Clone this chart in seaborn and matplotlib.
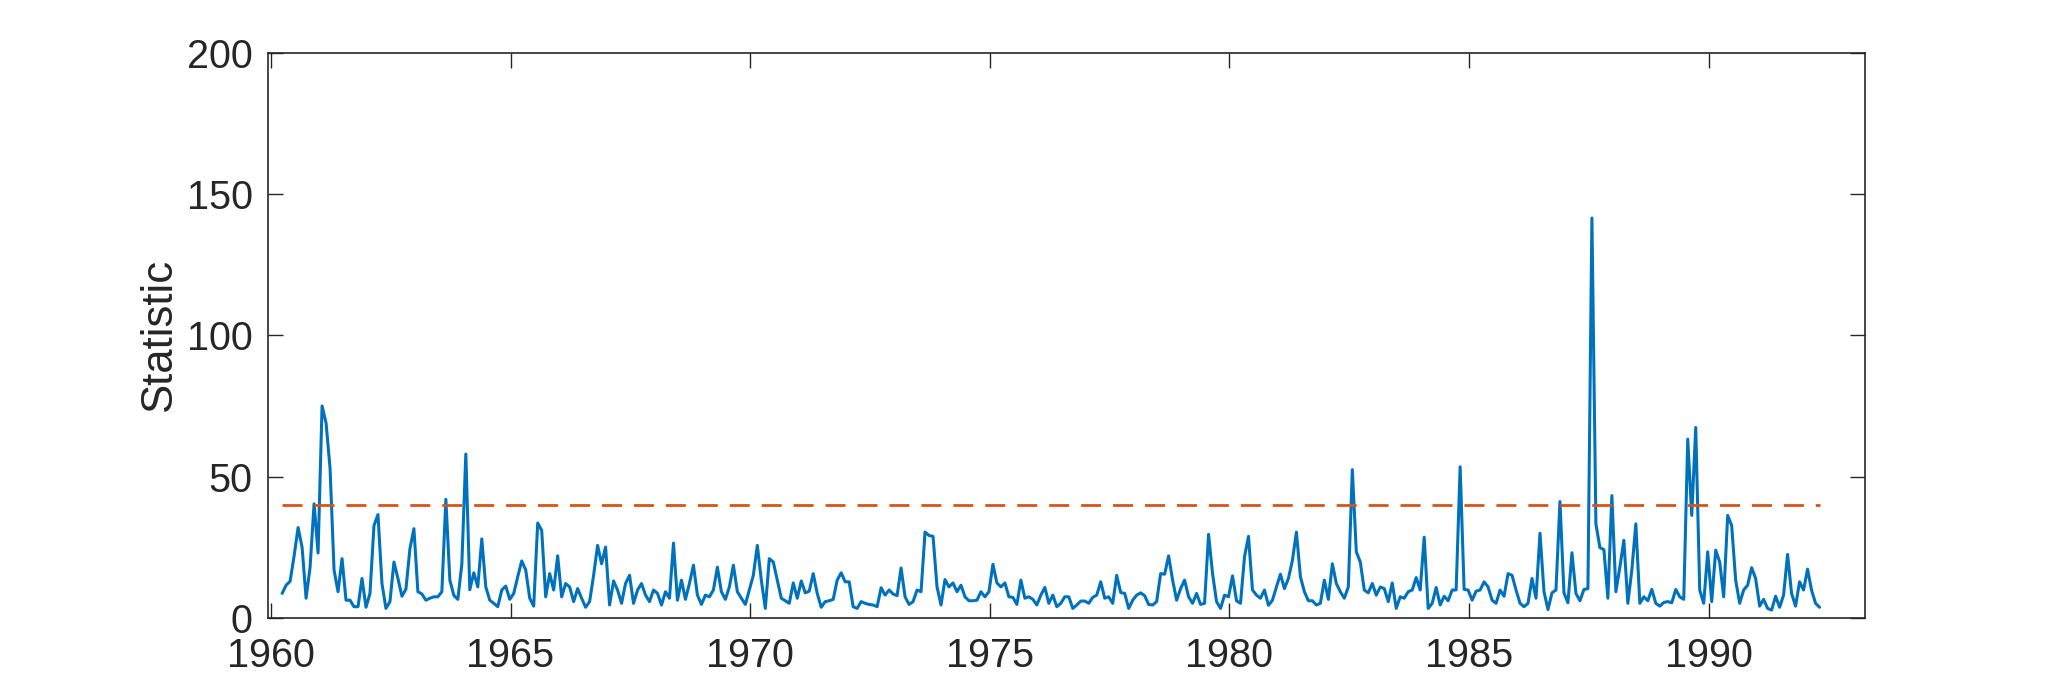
import numpy as np
import pandas as pd
import seaborn as sns
import matplotlib
matplotlib.use("Agg")
import matplotlib.pyplot as plt

# monthly statistic (starts spring 1960)
start_year = 1960 + 2.8 / 12
statistic = [
    8.7, 11.6, 13, 22, 32, 25, 7, 18, 40.4, 23, 75, 69, 53, 17, 9.3, 21,
    6.3, 6.3, 4, 4, 14, 3.8, 8.7, 32.7, 36.6, 12.2, 3.4, 5.8, 19.8, 14, 7.7, 10.2,
    24.5, 31.6, 9.3, 8.5, 6.3, 7, 7.5, 7.5, 9.3, 42, 13.4, 8, 6.6, 19, 58, 10,
    16, 11, 28, 11, 6.3, 5.2, 4, 9.9, 11.3, 6.6, 8.7, 14.6, 20.2, 17, 7, 4.2,
    33.6, 31, 7.5, 15.7, 9.9, 22, 7.5, 12.2, 11, 5.8, 10.4, 7, 3.8, 5.8, 15.1, 25.7,
    19.2, 25.1, 4.6, 13.1, 9.9, 5.2, 12.2, 15.1, 5.2, 9.9, 12.2, 8.1, 5.8, 9.9, 8.7, 4.6,
    9.3, 7, 26.5, 6.3, 13.4, 6.6, 12.2, 18.7, 8.1, 4.8, 8.1, 7.5, 9.9, 18, 9.3, 6.6,
    11, 18.7, 9.3, 7, 4.8, 9.9, 15.1, 25.7, 13.4, 3.4, 21, 19.8, 13.4, 7, 6.1, 5.2,
    12.4, 7, 13.1, 8.9, 9.5, 15.7, 8.7, 3.8, 5.8, 6.1, 6.6, 13.4, 16, 12.8, 12.8, 4,
    3.4, 5.8, 5.2, 4.8, 4.6, 4, 10.7, 8.1, 9.9, 8.5, 7.9, 17.7, 7.5, 4.8, 5.8, 9.9,
    9.3, 30.4, 29.2, 28.9, 11, 4.6, 13.6, 11, 12.4, 9.3, 11.6, 7.5, 6.1, 6.1, 6.3, 9.3,
    7.5, 9.3, 19, 12.4, 11, 12.4, 7.5, 7.3, 4.8, 13.4, 7, 7.5, 6.6, 4.6, 8.1, 10.8,
    5.2, 8.1, 4, 5.2, 7.5, 7.5, 3.4, 4.6, 6, 6, 5.2, 7.3, 8.1, 12.8, 7, 7.5,
    5.2, 15.1, 9, 8.7, 3.4, 6.3, 8.1, 8.9, 7.9, 4.8, 4.6, 5.8, 15.7, 15.5, 22, 13.4,
    6.3, 10.4, 13.4, 7.5, 5.2, 8.7, 4.8, 5.2, 29.6, 15.7, 5.8, 3.4, 8.1, 7.5, 14.9, 6.1,
    5.2, 21.6, 28.9, 9.9, 8.1, 7, 9.9, 4.5, 6.3, 11, 15.5, 10.4, 14, 20.4, 30.4, 14.6,
    9.3, 6.1, 6.1, 4.6, 5.2, 13.4, 6.6, 19.2, 12.2, 9.3, 7, 11, 52.5, 23.4, 19.8, 9.9,
    8.9, 12.2, 8.1, 11, 10.4, 5.8, 12.4, 3.4, 7.5, 7, 9.3, 9.9, 14.3, 9.9, 28.6, 3.4,
    5.2, 10.8, 4.6, 7.7, 6.1, 9.9, 9.9, 53.5, 10.1, 9.9, 6.3, 9.5, 9.9, 12.8, 11, 6.3,
    5.2, 9.9, 7.7, 15.7, 15.1, 9.9, 5.2, 4, 5.2, 14, 7, 30, 9.3, 3, 8.9, 9.9,
    41.2, 8.9, 5.4, 23.1, 8.7, 6.1, 10.1, 10.4, 141.5, 33.3, 24.9, 24.2, 7, 43.3, 9.3, 18,
    27.5, 5.2, 17, 33.3, 5.2, 7.5, 6.1, 10.1, 5.2, 4.2, 5.5, 5.8, 5.4, 10.1, 7.5, 6.6,
    63.3, 36.3, 67.4, 9.9, 5.2, 23.4, 5.8, 24, 19.8, 7.5, 36.3, 32.7, 13.4, 5.2, 9.9, 11.6,
    17.8, 14, 4.2, 6.6, 3.4, 2.8, 7.7, 3.8, 8.1, 22.5, 8.7, 4.2, 12.8, 9.9, 17.3, 9.9,
    5.2, 3.8,
]
threshold = 40
x_ticks = [1960, 1965, 1970, 1975, 1980, 1985, 1990]
y_ticks = [0, 50, 100, 150, 200]

years = start_year + np.arange(len(statistic)) / 12
df = pd.DataFrame({"year": years, "statistic": statistic})

sns.set_theme(style="white")
plt.rcParams["font.family"] = ["Liberation Sans", "DejaVu Sans"]
axis_col = "#262626"

fig = plt.figure(figsize=(20.61, 6.94), dpi=100)
ax = fig.add_axes([0.130, 0.1095, 0.775, 0.8146])

sns.lineplot(data=df, x="year", y="statistic", color="#0072BD", linewidth=2.2, ax=ax)
ax.plot([years[0], years[-1]], [threshold, threshold], color="#D95319",
        linewidth=2.0, dashes=(7.2, 4.3))

ax.set_xlim(1959.937, 1993.27)
ax.set_ylim(0, 200)
ax.set_xticks(x_ticks)
ax.set_yticks(y_ticks)
ax.set_xlabel("")
ax.set_ylabel("Statistic", fontsize=31.5, color=axis_col, labelpad=5)

ax.tick_params(axis="both", which="both", direction="in", length=11, width=1.0,
               color=axis_col, labelcolor=axis_col, labelsize=28.5,
               top=True, right=True, bottom=True, left=True)
ax.tick_params(axis="y", pad=11)
ax.tick_params(axis="x", pad=14)
for sp in ax.spines.values():
    sp.set_visible(True)
    sp.set_color(axis_col)
    sp.set_linewidth(1.2)

fig.savefig("out.png", dpi=100)
